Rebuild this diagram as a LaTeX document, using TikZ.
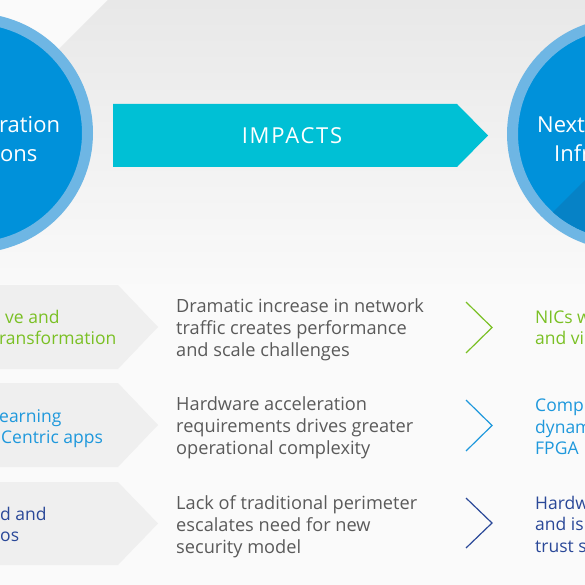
\documentclass[tikz,border=0pt]{standalone}
\usepackage{fontspec}
\setmainfont{Open Sans}
\usetikzlibrary{positioning}
\definecolor{ringblue}{RGB}{110,182,228}
\definecolor{discblue}{RGB}{0,145,218}
\definecolor{discdark}{RGB}{6,130,198}
\definecolor{impactcyan}{RGB}{0,192,213}
\definecolor{rowgrey}{RGB}{239,239,239}
\definecolor{bgtop}{RGB}{232,232,232}
\definecolor{bodygrey}{RGB}{90,90,90}
\definecolor{trendgreen}{RGB}{122,192,36}
\definecolor{trendblue}{RGB}{30,152,220}
\definecolor{trendnavy}{RGB}{42,72,152}

\begin{document}
\begin{tikzpicture}[x=1pt, y=-1pt,
    disc/.style={circle, fill=discblue, draw=ringblue, line width=11pt, inner sep=0pt},
    disctext/.style={anchor=base west, inner sep=0pt, text=white, font=\fontsize{22}{26}\selectfont},
    band/.style={fill=rowgrey},
    trend/.style={anchor=base west, inner sep=0pt, font=\fontsize{17.5}{22}\selectfont},
    impact/.style={anchor=base west, inner sep=0pt, align=left, text=bodygrey, font=\fontsize{18.2}{22}\selectfont},
    chev/.style={line width=1.2pt, line join=miter}
]
\useasboundingbox (0,0) rectangle (585,585);
\clip (0,0) rectangle (585,585);

% Background
\fill[white!98!black] (0,0) rectangle (585,585);
\shade[top color=bgtop, bottom color=white!98!black] (108,0) -- (585,0) -- (585,290) -- (0,290) -- (0,108) -- cycle;

% Left circle
\node[disc, minimum size=229pt] (apps) at (-27,133) {};
\node[disctext] (appsA) at (-1,133) {ration};
\node[disctext] (appsB) at (0,162) {ons};

% Right circle
\node[disc, minimum size=221pt] (infra) at (623,134) {};
\begin{scope}
  \clip (infra.center) circle (105pt);
  \fill[discdark] (530,235) -- (640,125) -- (760,300) -- (530,300) -- cycle;
\end{scope}
\node[disctext] (infraA) at (537,133) {Next};
\node[disctext] (infraB) at (554,162) {Infr};

% Impacts arrow
\fill[impactcyan] (113,104) -- (457,104) -- (488,135.5) -- (457,167) -- (113,167) -- cycle;
\node[text=white, inner sep=0pt, font=\fontsize{22}{26}\selectfont\addfontfeature{LetterSpace=8}] (impacts) at (292,135.5) {IMPACTS};

% Row 1
\fill[band] (0,285) -- (118,285) -- (158,327) -- (118,369) -- (0,369) -- cycle;
\node[trend, text=trendgreen] (trend1a) at (5,323) {ve and};
\node[trend, text=trendgreen] (trend1b) at (-1,344) {ransformation};
\node[impact] (impact1) at (176,356) {Dramatic increase in network\\traffic creates performance\\and scale challenges};
\draw[chev, trendgreen] (466,302) -- (492,327.5) -- (466,353);
\node[trend, text=trendgreen] (need1a) at (535,323) {NICs w};
\node[trend, text=trendgreen] (need1b) at (535,344) {and vi};

% Row 2
\fill[band] (0,383) -- (118,383) -- (158,425) -- (118,467) -- (0,467) -- cycle;
\node[trend, text=trendblue] (trend2a) at (-1,422) {earning};
\node[trend, text=trendblue] (trend2b) at (1,443) {Centric apps};
\node[impact] (impact2) at (176,454) {Hardware acceleration\\requirements drives greater\\operational complexity};
\draw[chev, trendblue] (466,400) -- (492,425.5) -- (466,451);
\node[trend, text=trendblue] (need2a) at (535,411) {Comp};
\node[trend, text=trendblue] (need2b) at (535,433) {dynam};
\node[trend, text=trendblue] (need2c) at (535,454) {FPGA};

% Row 3
\fill[band] (0,482) -- (118,482) -- (158,523.5) -- (118,565) -- (0,565) -- cycle;
\node[trend, text=trendnavy] (trend3a) at (0,520) {d and};
\node[trend, text=trendnavy] (trend3b) at (0,541) {os};
\node[impact] (impact3) at (176,553) {Lack of traditional perimeter\\escalates need for new\\security model};
\draw[chev, trendnavy] (466,498) -- (492,523) -- (466,548);
\node[trend, text=trendnavy] (need3a) at (535,509) {Hardw};
\node[trend, text=trendnavy] (need3b) at (535,530) {and is};
\node[trend, text=trendnavy] (need3c) at (535,552) {trust s};

\end{tikzpicture}
\end{document}
